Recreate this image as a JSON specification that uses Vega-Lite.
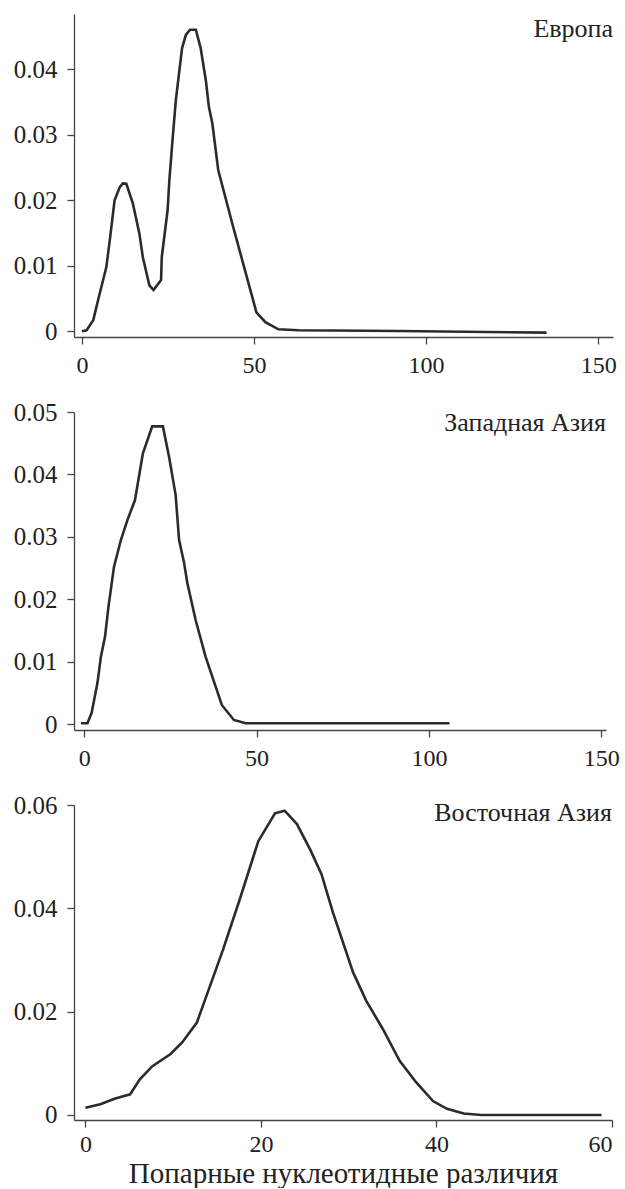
{
  "$schema": "https://vega.github.io/schema/vega-lite/v6.json",
  "padding": {"left": 13, "top": 14, "right": 5, "bottom": 0},
  "background": "white",
  "spacing": 75,
  "bounds": "flush",
  "config": {
    "view": {"stroke": null},
    "font": "Liberation Serif",
    "axis": {
      "grid": false,
      "labelFont": "Liberation Serif",
      "labelColor": "#222",
      "domainColor": "#444",
      "domainWidth": 1.3,
      "tickColor": "#444",
      "tickWidth": 1.3,
      "tickSize": 7,
      "titleFont": "Liberation Serif",
      "titleFontSize": 29,
      "titleFontWeight": "normal",
      "titleColor": "#222"
    },
    "axisX": {"labelFontSize": 24, "labelPadding": 9},
    "axisY": {"labelFontSize": 25, "labelPadding": 10}
  },
  "vconcat": [
    {
      "width": 539,
      "height": 323,
      "layer": [
        {
          "data": {"values": [
            {"x": 0, "y": 0}, {"x": 1.35, "y": 0.00015}, {"x": 3.3, "y": 0.0017}, {"x": 4.9, "y": 0.0052},
            {"x": 7.1, "y": 0.0098}, {"x": 8.1, "y": 0.0139}, {"x": 9.5, "y": 0.020}, {"x": 11, "y": 0.022},
            {"x": 11.9, "y": 0.02255}, {"x": 12.9, "y": 0.0225}, {"x": 14.8, "y": 0.0195}, {"x": 16.7, "y": 0.0149},
            {"x": 17.7, "y": 0.0113}, {"x": 19.6, "y": 0.0070}, {"x": 20.8, "y": 0.0063}, {"x": 23, "y": 0.0078},
            {"x": 23.2, "y": 0.0113}, {"x": 24.9, "y": 0.0185}, {"x": 25.4, "y": 0.023}, {"x": 26.3, "y": 0.029},
            {"x": 27.3, "y": 0.0353}, {"x": 29.1, "y": 0.0432}, {"x": 30.2, "y": 0.0452}, {"x": 31.4, "y": 0.046},
            {"x": 33.1, "y": 0.046}, {"x": 34.5, "y": 0.0432}, {"x": 36, "y": 0.0383}, {"x": 36.9, "y": 0.0342},
            {"x": 37.9, "y": 0.0317}, {"x": 39.6, "y": 0.0246}, {"x": 43.7, "y": 0.0164}, {"x": 50.7, "y": 0.0029},
            {"x": 53.3, "y": 0.0014}, {"x": 57.1, "y": 0.0003}, {"x": 62.9, "y": 0.00015}, {"x": 91.8, "y": 0.00005},
            {"x": 135, "y": -0.0002}
          ]},
          "mark": {"type": "line", "color": "#2b2b2b", "strokeWidth": 2.6},
          "encoding": {
            "x": {"field": "x", "type": "quantitative", "title": null,
                  "scale": {"domain": [-2.3, 154.3], "nice": false, "zero": false},
                  "axis": {"values": [0, 50, 100, 150]}},
            "y": {"field": "y", "type": "quantitative", "title": null,
                  "scale": {"domain": [-0.00087, 0.0484], "nice": false, "zero": false},
                  "axis": {"values": [0, 0.01, 0.02, 0.03, 0.04],
                           "labelExpr": "datum.value == 0 ? '0' : format(datum.value, '.2f')"}}
          }
        },
        {
          "data": {"values": [{"x": 154.3, "y": 0.04484, "label": "Европа"}]},
          "mark": {"type": "text", "align": "right", "baseline": "alphabetic", "font": "Liberation Serif", "fontSize": 26, "color": "#222"},
          "encoding": {
            "x": {"field": "x", "type": "quantitative"},
            "y": {"field": "y", "type": "quantitative"},
            "text": {"field": "label"}
          }
        }
      ]
    },
    {
      "width": 532,
      "height": 318,
      "layer": [
        {
          "data": {"values": [
            {"x": -1.0, "y": 0.00016}, {"x": 0.9, "y": 0.00016}, {"x": 2.1, "y": 0.0018}, {"x": 3.8, "y": 0.0066},
            {"x": 4.8, "y": 0.0108}, {"x": 6.0, "y": 0.014}, {"x": 7.0, "y": 0.0188}, {"x": 8.6, "y": 0.0252},
            {"x": 10.6, "y": 0.0295}, {"x": 12.5, "y": 0.0327}, {"x": 14.7, "y": 0.0359}, {"x": 17.0, "y": 0.0434},
            {"x": 19.7, "y": 0.0477}, {"x": 22.8, "y": 0.0477}, {"x": 24.6, "y": 0.0428}, {"x": 26.5, "y": 0.0367},
            {"x": 27.5, "y": 0.0295}, {"x": 28.9, "y": 0.026}, {"x": 29.9, "y": 0.0226}, {"x": 32.3, "y": 0.0167},
            {"x": 35.2, "y": 0.0108}, {"x": 39.9, "y": 0.0031}, {"x": 43.4, "y": 0.0007}, {"x": 46.8, "y": 0.00016},
            {"x": 106, "y": 0.00016}
          ]},
          "mark": {"type": "line", "color": "#2b2b2b", "strokeWidth": 2.6},
          "encoding": {
            "x": {"field": "x", "type": "quantitative", "title": null,
                  "scale": {"domain": [-3, 151.4], "nice": false, "zero": false},
                  "axis": {"values": [0, 50, 100, 150]}},
            "y": {"field": "y", "type": "quantitative", "title": null,
                  "scale": {"domain": [-0.00091, 0.05], "nice": false, "zero": false},
                  "axis": {"values": [0, 0.01, 0.02, 0.03, 0.04, 0.05],
                           "labelExpr": "datum.value == 0 ? '0' : format(datum.value, '.2f')"}}
          }
        },
        {
          "data": {"values": [{"x": 151.4, "y": 0.04698, "label": "Западная Азия"}]},
          "mark": {"type": "text", "align": "right", "baseline": "alphabetic", "font": "Liberation Serif", "fontSize": 26, "color": "#222"},
          "encoding": {
            "x": {"field": "x", "type": "quantitative"},
            "y": {"field": "y", "type": "quantitative"},
            "text": {"field": "label"}
          }
        }
      ]
    },
    {
      "width": 538,
      "height": 315,
      "layer": [
        {
          "data": {"values": [
            {"x": 0, "y": 0.0014}, {"x": 1.7, "y": 0.0021}, {"x": 3.4, "y": 0.0032}, {"x": 5.1, "y": 0.0040},
            {"x": 6.2, "y": 0.0069}, {"x": 7.6, "y": 0.0094}, {"x": 9.7, "y": 0.0118}, {"x": 11.0, "y": 0.014},
            {"x": 12.7, "y": 0.0179}, {"x": 14.2, "y": 0.025}, {"x": 15.7, "y": 0.0321}, {"x": 17.6, "y": 0.0418},
            {"x": 19.7, "y": 0.053}, {"x": 21.6, "y": 0.0584}, {"x": 22.7, "y": 0.0589}, {"x": 24.1, "y": 0.0563},
            {"x": 25.6, "y": 0.0514}, {"x": 26.9, "y": 0.0466}, {"x": 28.2, "y": 0.0392}, {"x": 30.5, "y": 0.0276},
            {"x": 32.0, "y": 0.0221}, {"x": 33.9, "y": 0.0166}, {"x": 35.8, "y": 0.0105}, {"x": 37.7, "y": 0.0063},
            {"x": 39.6, "y": 0.0027}, {"x": 41.2, "y": 0.0012}, {"x": 43.1, "y": 0.0003}, {"x": 45.1, "y": 0.0},
            {"x": 58.8, "y": 0.0}
          ]},
          "mark": {"type": "line", "color": "#2b2b2b", "strokeWidth": 2.6},
          "encoding": {
            "x": {"field": "x", "type": "quantitative", "title": "Попарные нуклеотидные различия",
                  "scale": {"domain": [-1.3, 60], "nice": false, "zero": false},
                  "axis": {"values": [0, 20, 40, 60], "labelPadding": 5, "titlePadding": 3}},
            "y": {"field": "y", "type": "quantitative", "title": null,
                  "scale": {"domain": [-0.00097, 0.06], "nice": false, "zero": false},
                  "axis": {"values": [0, 0.02, 0.04, 0.06],
                           "labelExpr": "datum.value == 0 ? '0' : format(datum.value, '.2f')"}}
          }
        },
        {
          "data": {"values": [{"x": 60, "y": 0.0569, "label": "Восточная Азия"}]},
          "mark": {"type": "text", "align": "right", "baseline": "alphabetic", "font": "Liberation Serif", "fontSize": 26, "color": "#222"},
          "encoding": {
            "x": {"field": "x", "type": "quantitative"},
            "y": {"field": "y", "type": "quantitative"},
            "text": {"field": "label"}
          }
        }
      ]
    }
  ]
}
